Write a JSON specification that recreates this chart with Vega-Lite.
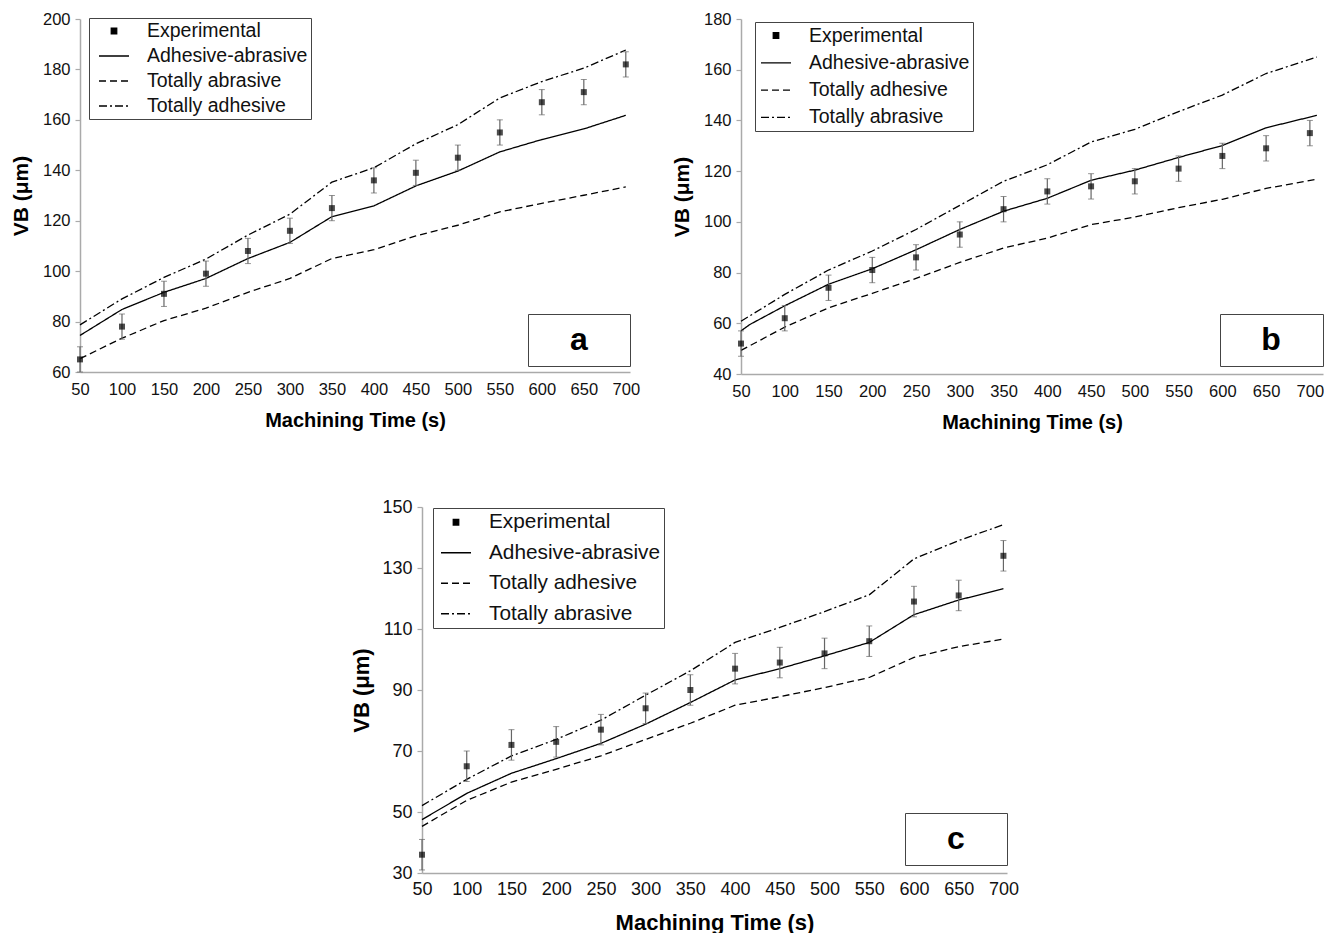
{
"$schema": "https://vega.github.io/schema/vega-lite/v6.json",
"background": "white",
"padding": {"left": 10, "top": 11, "right": 0, "bottom": 0},
"spacing": 65,
"config": {
  "view": {"stroke": null},
  "font": "Liberation Sans",
  "axis": {"grid": false, "domainColor": "#aaaaaa", "domainWidth": 1.5, "tickColor": "#aaaaaa", "tickWidth": 1.2, "labelColor": "#111111", "titleColor": "#000000", "labelFont": "Liberation Sans", "titleFont": "Liberation Sans", "titleFontWeight": "bold", "labelFlush": false, "labelOverlap": false},
  "legend": {"labelFont": "Liberation Sans", "labelColor": "#111111", "strokeColor": "#444444", "fillColor": "white", "labelLimit": 400}
},
"datasets": {
  "model": [
    {"panel": "a", "series": "Adhesive-abrasive", "t": 50, "vb": 74.5},
    {"panel": "a", "series": "Adhesive-abrasive", "t": 100, "vb": 84.8},
    {"panel": "a", "series": "Adhesive-abrasive", "t": 150, "vb": 91.6},
    {"panel": "a", "series": "Adhesive-abrasive", "t": 200, "vb": 97.1},
    {"panel": "a", "series": "Adhesive-abrasive", "t": 250, "vb": 105},
    {"panel": "a", "series": "Adhesive-abrasive", "t": 300, "vb": 111.4},
    {"panel": "a", "series": "Adhesive-abrasive", "t": 350, "vb": 121.6},
    {"panel": "a", "series": "Adhesive-abrasive", "t": 400, "vb": 125.9},
    {"panel": "a", "series": "Adhesive-abrasive", "t": 450, "vb": 133.8},
    {"panel": "a", "series": "Adhesive-abrasive", "t": 500, "vb": 139.7},
    {"panel": "a", "series": "Adhesive-abrasive", "t": 550, "vb": 147.3},
    {"panel": "a", "series": "Adhesive-abrasive", "t": 600, "vb": 152.2},
    {"panel": "a", "series": "Adhesive-abrasive", "t": 650, "vb": 156.4},
    {"panel": "a", "series": "Adhesive-abrasive", "t": 700, "vb": 161.8},
    {"panel": "a", "series": "Totally abrasive", "t": 50, "vb": 65.3},
    {"panel": "a", "series": "Totally abrasive", "t": 100, "vb": 73.4},
    {"panel": "a", "series": "Totally abrasive", "t": 150, "vb": 80.4},
    {"panel": "a", "series": "Totally abrasive", "t": 200, "vb": 85.3},
    {"panel": "a", "series": "Totally abrasive", "t": 250, "vb": 91.6},
    {"panel": "a", "series": "Totally abrasive", "t": 300, "vb": 97.1},
    {"panel": "a", "series": "Totally abrasive", "t": 350, "vb": 105},
    {"panel": "a", "series": "Totally abrasive", "t": 400, "vb": 108.5},
    {"panel": "a", "series": "Totally abrasive", "t": 450, "vb": 114},
    {"panel": "a", "series": "Totally abrasive", "t": 500, "vb": 118.2},
    {"panel": "a", "series": "Totally abrasive", "t": 550, "vb": 123.5},
    {"panel": "a", "series": "Totally abrasive", "t": 600, "vb": 126.9},
    {"panel": "a", "series": "Totally abrasive", "t": 650, "vb": 130.1},
    {"panel": "a", "series": "Totally abrasive", "t": 700, "vb": 133.4},
    {"panel": "a", "series": "Totally adhesive", "t": 50, "vb": 78.7},
    {"panel": "a", "series": "Totally adhesive", "t": 100, "vb": 89},
    {"panel": "a", "series": "Totally adhesive", "t": 150, "vb": 97.5},
    {"panel": "a", "series": "Totally adhesive", "t": 200, "vb": 104.8},
    {"panel": "a", "series": "Totally adhesive", "t": 250, "vb": 114.3},
    {"panel": "a", "series": "Totally adhesive", "t": 300, "vb": 122.6},
    {"panel": "a", "series": "Totally adhesive", "t": 350, "vb": 135.3},
    {"panel": "a", "series": "Totally adhesive", "t": 400, "vb": 141},
    {"panel": "a", "series": "Totally adhesive", "t": 450, "vb": 150.5},
    {"panel": "a", "series": "Totally adhesive", "t": 500, "vb": 158.1},
    {"panel": "a", "series": "Totally adhesive", "t": 550, "vb": 168.7},
    {"panel": "a", "series": "Totally adhesive", "t": 600, "vb": 175.2},
    {"panel": "a", "series": "Totally adhesive", "t": 650, "vb": 180.5},
    {"panel": "a", "series": "Totally adhesive", "t": 700, "vb": 187.7},
    {"panel": "b", "series": "Adhesive-abrasive", "t": 50, "vb": 57},
    {"panel": "b", "series": "Adhesive-abrasive", "t": 60, "vb": 59.5},
    {"panel": "b", "series": "Adhesive-abrasive", "t": 100, "vb": 66.9},
    {"panel": "b", "series": "Adhesive-abrasive", "t": 150, "vb": 75.4},
    {"panel": "b", "series": "Adhesive-abrasive", "t": 200, "vb": 81.5},
    {"panel": "b", "series": "Adhesive-abrasive", "t": 250, "vb": 89},
    {"panel": "b", "series": "Adhesive-abrasive", "t": 300, "vb": 97},
    {"panel": "b", "series": "Adhesive-abrasive", "t": 350, "vb": 104.2},
    {"panel": "b", "series": "Adhesive-abrasive", "t": 400, "vb": 109.3},
    {"panel": "b", "series": "Adhesive-abrasive", "t": 450, "vb": 116.4},
    {"panel": "b", "series": "Adhesive-abrasive", "t": 500, "vb": 120.4},
    {"panel": "b", "series": "Adhesive-abrasive", "t": 550, "vb": 125.4},
    {"panel": "b", "series": "Adhesive-abrasive", "t": 600, "vb": 130.1},
    {"panel": "b", "series": "Adhesive-abrasive", "t": 650, "vb": 137.1},
    {"panel": "b", "series": "Adhesive-abrasive", "t": 708, "vb": 142},
    {"panel": "b", "series": "Totally adhesive", "t": 50, "vb": 49.3},
    {"panel": "b", "series": "Totally adhesive", "t": 100, "vb": 58.5},
    {"panel": "b", "series": "Totally adhesive", "t": 150, "vb": 66.1},
    {"panel": "b", "series": "Totally adhesive", "t": 200, "vb": 71.8},
    {"panel": "b", "series": "Totally adhesive", "t": 250, "vb": 77.7},
    {"panel": "b", "series": "Totally adhesive", "t": 300, "vb": 84},
    {"panel": "b", "series": "Totally adhesive", "t": 350, "vb": 89.7},
    {"panel": "b", "series": "Totally adhesive", "t": 400, "vb": 93.6},
    {"panel": "b", "series": "Totally adhesive", "t": 450, "vb": 98.9},
    {"panel": "b", "series": "Totally adhesive", "t": 500, "vb": 101.9},
    {"panel": "b", "series": "Totally adhesive", "t": 550, "vb": 105.6},
    {"panel": "b", "series": "Totally adhesive", "t": 600, "vb": 108.9},
    {"panel": "b", "series": "Totally adhesive", "t": 650, "vb": 113.2},
    {"panel": "b", "series": "Totally adhesive", "t": 708, "vb": 116.8},
    {"panel": "b", "series": "Totally abrasive", "t": 50, "vb": 60.8},
    {"panel": "b", "series": "Totally abrasive", "t": 100, "vb": 71.4},
    {"panel": "b", "series": "Totally abrasive", "t": 150, "vb": 81},
    {"panel": "b", "series": "Totally abrasive", "t": 200, "vb": 88.5},
    {"panel": "b", "series": "Totally abrasive", "t": 250, "vb": 97},
    {"panel": "b", "series": "Totally abrasive", "t": 300, "vb": 106.5},
    {"panel": "b", "series": "Totally abrasive", "t": 350, "vb": 116},
    {"panel": "b", "series": "Totally abrasive", "t": 400, "vb": 122.5},
    {"panel": "b", "series": "Totally abrasive", "t": 450, "vb": 131.5},
    {"panel": "b", "series": "Totally abrasive", "t": 500, "vb": 136.5},
    {"panel": "b", "series": "Totally abrasive", "t": 550, "vb": 143.5},
    {"panel": "b", "series": "Totally abrasive", "t": 600, "vb": 150},
    {"panel": "b", "series": "Totally abrasive", "t": 650, "vb": 158.5},
    {"panel": "b", "series": "Totally abrasive", "t": 708, "vb": 165},
    {"panel": "c", "series": "Adhesive-abrasive", "t": 50, "vb": 47.5},
    {"panel": "c", "series": "Adhesive-abrasive", "t": 100, "vb": 56.1},
    {"panel": "c", "series": "Adhesive-abrasive", "t": 150, "vb": 62.7},
    {"panel": "c", "series": "Adhesive-abrasive", "t": 200, "vb": 67.5},
    {"panel": "c", "series": "Adhesive-abrasive", "t": 250, "vb": 72.5},
    {"panel": "c", "series": "Adhesive-abrasive", "t": 300, "vb": 78.8},
    {"panel": "c", "series": "Adhesive-abrasive", "t": 350, "vb": 85.9},
    {"panel": "c", "series": "Adhesive-abrasive", "t": 400, "vb": 93.3},
    {"panel": "c", "series": "Adhesive-abrasive", "t": 450, "vb": 97},
    {"panel": "c", "series": "Adhesive-abrasive", "t": 500, "vb": 101.2},
    {"panel": "c", "series": "Adhesive-abrasive", "t": 550, "vb": 105.6},
    {"panel": "c", "series": "Adhesive-abrasive", "t": 600, "vb": 114.7},
    {"panel": "c", "series": "Adhesive-abrasive", "t": 650, "vb": 119.5},
    {"panel": "c", "series": "Adhesive-abrasive", "t": 700, "vb": 123.2},
    {"panel": "c", "series": "Totally adhesive", "t": 50, "vb": 45.3},
    {"panel": "c", "series": "Totally adhesive", "t": 100, "vb": 53.8},
    {"panel": "c", "series": "Totally adhesive", "t": 150, "vb": 59.8},
    {"panel": "c", "series": "Totally adhesive", "t": 200, "vb": 64},
    {"panel": "c", "series": "Totally adhesive", "t": 250, "vb": 68.4},
    {"panel": "c", "series": "Totally adhesive", "t": 300, "vb": 73.8},
    {"panel": "c", "series": "Totally adhesive", "t": 350, "vb": 79.1},
    {"panel": "c", "series": "Totally adhesive", "t": 400, "vb": 85},
    {"panel": "c", "series": "Totally adhesive", "t": 450, "vb": 87.8},
    {"panel": "c", "series": "Totally adhesive", "t": 500, "vb": 90.8},
    {"panel": "c", "series": "Totally adhesive", "t": 550, "vb": 94.1},
    {"panel": "c", "series": "Totally adhesive", "t": 600, "vb": 100.7},
    {"panel": "c", "series": "Totally adhesive", "t": 650, "vb": 104.2},
    {"panel": "c", "series": "Totally adhesive", "t": 700, "vb": 106.7},
    {"panel": "c", "series": "Totally abrasive", "t": 50, "vb": 52.1},
    {"panel": "c", "series": "Totally abrasive", "t": 100, "vb": 60.7},
    {"panel": "c", "series": "Totally abrasive", "t": 150, "vb": 68.4},
    {"panel": "c", "series": "Totally abrasive", "t": 200, "vb": 73.8},
    {"panel": "c", "series": "Totally abrasive", "t": 250, "vb": 80.1},
    {"panel": "c", "series": "Totally abrasive", "t": 300, "vb": 88.3},
    {"panel": "c", "series": "Totally abrasive", "t": 350, "vb": 96.3},
    {"panel": "c", "series": "Totally abrasive", "t": 400, "vb": 105.6},
    {"panel": "c", "series": "Totally abrasive", "t": 450, "vb": 110.5},
    {"panel": "c", "series": "Totally abrasive", "t": 500, "vb": 115.7},
    {"panel": "c", "series": "Totally abrasive", "t": 550, "vb": 121.2},
    {"panel": "c", "series": "Totally abrasive", "t": 600, "vb": 133},
    {"panel": "c", "series": "Totally abrasive", "t": 650, "vb": 139},
    {"panel": "c", "series": "Totally abrasive", "t": 700, "vb": 144.2}
  ],
  "exp": [
    {"panel": "a", "t": 50, "vb": 65, "lo": 60, "hi": 70},
    {"panel": "a", "t": 100, "vb": 78, "lo": 73, "hi": 83},
    {"panel": "a", "t": 150, "vb": 91, "lo": 86, "hi": 96},
    {"panel": "a", "t": 200, "vb": 99, "lo": 94, "hi": 104},
    {"panel": "a", "t": 250, "vb": 108, "lo": 103, "hi": 113},
    {"panel": "a", "t": 300, "vb": 116, "lo": 111, "hi": 121},
    {"panel": "a", "t": 350, "vb": 125, "lo": 120, "hi": 130},
    {"panel": "a", "t": 400, "vb": 136, "lo": 131, "hi": 141},
    {"panel": "a", "t": 450, "vb": 139, "lo": 134, "hi": 144},
    {"panel": "a", "t": 500, "vb": 145, "lo": 140, "hi": 150},
    {"panel": "a", "t": 550, "vb": 155, "lo": 150, "hi": 160},
    {"panel": "a", "t": 600, "vb": 167, "lo": 162, "hi": 172},
    {"panel": "a", "t": 650, "vb": 171, "lo": 166, "hi": 176},
    {"panel": "a", "t": 700, "vb": 182, "lo": 177, "hi": 187},
    {"panel": "b", "t": 50, "vb": 52, "lo": 47, "hi": 57},
    {"panel": "b", "t": 100, "vb": 62, "lo": 57, "hi": 67},
    {"panel": "b", "t": 150, "vb": 74, "lo": 69, "hi": 79},
    {"panel": "b", "t": 200, "vb": 81, "lo": 76, "hi": 86},
    {"panel": "b", "t": 250, "vb": 86, "lo": 81, "hi": 91},
    {"panel": "b", "t": 300, "vb": 95, "lo": 90, "hi": 100},
    {"panel": "b", "t": 350, "vb": 105, "lo": 100, "hi": 110},
    {"panel": "b", "t": 400, "vb": 112, "lo": 107, "hi": 117},
    {"panel": "b", "t": 450, "vb": 114, "lo": 109, "hi": 119},
    {"panel": "b", "t": 500, "vb": 116, "lo": 111, "hi": 121},
    {"panel": "b", "t": 550, "vb": 121, "lo": 116, "hi": 126},
    {"panel": "b", "t": 600, "vb": 126, "lo": 121, "hi": 131},
    {"panel": "b", "t": 650, "vb": 129, "lo": 124, "hi": 134},
    {"panel": "b", "t": 700, "vb": 135, "lo": 130, "hi": 140},
    {"panel": "c", "t": 50, "vb": 36, "lo": 31, "hi": 41},
    {"panel": "c", "t": 100, "vb": 65, "lo": 60, "hi": 70},
    {"panel": "c", "t": 150, "vb": 72, "lo": 67, "hi": 77},
    {"panel": "c", "t": 200, "vb": 73, "lo": 68, "hi": 78},
    {"panel": "c", "t": 250, "vb": 77, "lo": 72, "hi": 82},
    {"panel": "c", "t": 300, "vb": 84, "lo": 79, "hi": 89},
    {"panel": "c", "t": 350, "vb": 90, "lo": 85, "hi": 95},
    {"panel": "c", "t": 400, "vb": 97, "lo": 92, "hi": 102},
    {"panel": "c", "t": 450, "vb": 99, "lo": 94, "hi": 104},
    {"panel": "c", "t": 500, "vb": 102, "lo": 97, "hi": 107},
    {"panel": "c", "t": 550, "vb": 106, "lo": 101, "hi": 111},
    {"panel": "c", "t": 600, "vb": 119, "lo": 114, "hi": 124},
    {"panel": "c", "t": 650, "vb": 121, "lo": 116, "hi": 126},
    {"panel": "c", "t": 700, "vb": 134, "lo": 129, "hi": 139}
  ]
},
"resolve": {"scale": {"strokeDash": "independent", "shape": "independent"}, "legend": {"strokeDash": "independent", "shape": "independent"}},
"vconcat": [
  {
    "bounds": "flush",
    "spacing": 111,
    "resolve": {"scale": {"strokeDash": "independent", "shape": "independent"}, "legend": {"strokeDash": "independent", "shape": "independent"}},
    "hconcat": [
      {
        "width": 550, "height": 353,
        "layer": [
          {
            "data": {"name": "model"},
            "transform": [{"filter": "datum.panel === 'a'"}],
            "mark": {"type": "line", "color": "black", "strokeWidth": 1.3},
            "encoding": {
              "x": {"field": "t", "type": "quantitative", "scale": {"domain": [50, 705], "nice": false, "zero": false},
                    "axis": {"values": [50,100,150,200,250,300,350,400,450,500,550,600,650,700], "title": "Machining Time (s)", "ticks": false, "tickSize": 0, "labelPadding": 9, "labelFontSize": 16.5, "titleFontSize": 20, "titlePadding": 13}},
              "y": {"field": "vb", "type": "quantitative", "title": "VB (μm)", "scale": {"domain": [60, 200], "nice": false, "zero": false},
                    "axis": {"values": [60,80,100,120,140,160,180,200], "tickSize": 5, "labelPadding": 5, "labelFontSize": 16.5, "titleFontSize": 21, "titlePadding": 11}},
              "strokeDash": {"field": "series", "type": "nominal",
                "scale": {"domain": ["Experimental", "Adhesive-abrasive", "Totally abrasive", "Totally adhesive"], "range": [[1, 0], [1, 0], [7, 4], [8, 3, 2, 3]]},
                "legend": {"title": null, "orient": "none", "legendX": 9, "legendY": -1, "symbolType": "stroke", "symbolSize": 900, "symbolOffset": 6, "symbolStrokeWidth": 1.3, "symbolStrokeColor": "black", "labelOffset": 17, "labelFontSize": 19.5, "padding": 3, "rowPadding": 5, "clipHeight": 20,
                  "encode": {"symbols": {"update": {"shape": {"signal": "datum.value === 'Experimental' ? 'square' : 'stroke'"}, "size": {"signal": "datum.value === 'Experimental' ? 30 : 900"}, "fill": {"signal": "datum.value === 'Experimental' ? 'black' : 'transparent'"}, "stroke": {"value": "black"}, "strokeWidth": {"value": 1.3}, "opacity": {"value": 1}}}}}}
            }
          },
          {
            "data": {"name": "exp"},
            "transform": [{"filter": "datum.panel === 'a'"}],
            "mark": {"type": "errorbar", "ticks": {"size": 6, "color": "#666666", "strokeWidth": 1.2}, "rule": {"color": "#666666", "strokeWidth": 1.2}},
            "encoding": {
              "x": {"field": "t", "type": "quantitative"},
              "y": {"field": "lo", "type": "quantitative", "title": "VB (μm)"},
              "y2": {"field": "hi"}
            }
          },
          {
            "data": {"name": "exp"},
            "transform": [{"filter": "datum.panel === 'a'"}],
            "mark": {"type": "point", "shape": "square", "filled": true, "color": "black", "size": 36},
            "encoding": {
              "x": {"field": "t", "type": "quantitative"},
              "y": {"field": "vb", "type": "quantitative", "title": "VB (μm)"}
            }
          },
          {
            "data": {"name": "exp"},
            "transform": [{"filter": "datum.panel === 'a'"}],
            "mark": {"type": "point", "opacity": 0},
            "encoding": {
              "x": {"field": "t", "type": "quantitative"},
              "y": {"field": "vb", "type": "quantitative", "title": "VB (μm)"},
              "shape": {"field": "panel", "type": "nominal", "scale": {"domain": ["a"], "range": ["stroke"]},
                "legend": {"title": null, "orient": "none", "legendX": 448, "legendY": 295, "symbolSize": 324, "symbolStrokeWidth": 0, "symbolOpacity": 0, "symbolStrokeColor": "transparent", "symbolFillColor": "transparent", "symbolOffset": 57, "labelAlign": "center", "labelOffset": -48, "labelFontSize": 32, "labelFontWeight": "bold", "labelColor": "black", "padding": 10}}
            }
          }
        ]
      },
      {
        "width": 582, "height": 355,
        "layer": [
          {
            "data": {"name": "model"},
            "transform": [{"filter": "datum.panel === 'b'"}],
            "mark": {"type": "line", "color": "black", "strokeWidth": 1.3},
            "encoding": {
              "x": {"field": "t", "type": "quantitative", "scale": {"domain": [50, 715], "nice": false, "zero": false},
                    "axis": {"values": [50,100,150,200,250,300,350,400,450,500,550,600,650,700], "title": "Machining Time (s)", "ticks": false, "tickSize": 0, "labelPadding": 9, "labelFontSize": 16.5, "titleFontSize": 20, "titlePadding": 13}},
              "y": {"field": "vb", "type": "quantitative", "title": "VB (μm)", "scale": {"domain": [40, 180], "nice": false, "zero": false},
                    "axis": {"values": [40,60,80,100,120,140,160,180], "tickSize": 5, "labelPadding": 5, "labelFontSize": 16.5, "titleFontSize": 21, "titlePadding": 11}},
              "strokeDash": {"field": "series", "type": "nominal",
                "scale": {"domain": ["Experimental", "Adhesive-abrasive", "Totally adhesive", "Totally abrasive"], "range": [[1, 0], [1, 0], [7, 4], [8, 3, 2, 3]]},
                "legend": {"title": null, "orient": "none", "legendX": 14, "legendY": 3, "symbolType": "stroke", "symbolSize": 900, "symbolOffset": 2, "symbolStrokeWidth": 1.3, "symbolStrokeColor": "black", "labelOffset": 17, "labelFontSize": 19.5, "padding": 3, "rowPadding": 6.3, "clipHeight": 21,
                  "encode": {"symbols": {"update": {"shape": {"signal": "datum.value === 'Experimental' ? 'square' : 'stroke'"}, "size": {"signal": "datum.value === 'Experimental' ? 30 : 900"}, "fill": {"signal": "datum.value === 'Experimental' ? 'black' : 'transparent'"}, "stroke": {"value": "black"}, "strokeWidth": {"value": 1.3}, "opacity": {"value": 1}}}}}}
            }
          },
          {
            "data": {"name": "exp"},
            "transform": [{"filter": "datum.panel === 'b'"}],
            "mark": {"type": "errorbar", "ticks": {"size": 6, "color": "#666666", "strokeWidth": 1.2}, "rule": {"color": "#666666", "strokeWidth": 1.2}},
            "encoding": {
              "x": {"field": "t", "type": "quantitative"},
              "y": {"field": "lo", "type": "quantitative", "title": "VB (μm)"},
              "y2": {"field": "hi"}
            }
          },
          {
            "data": {"name": "exp"},
            "transform": [{"filter": "datum.panel === 'b'"}],
            "mark": {"type": "point", "shape": "square", "filled": true, "color": "black", "size": 36},
            "encoding": {
              "x": {"field": "t", "type": "quantitative"},
              "y": {"field": "vb", "type": "quantitative", "title": "VB (μm)"}
            }
          },
          {
            "data": {"name": "exp"},
            "transform": [{"filter": "datum.panel === 'b'"}],
            "mark": {"type": "point", "opacity": 0},
            "encoding": {
              "x": {"field": "t", "type": "quantitative"},
              "y": {"field": "vb", "type": "quantitative", "title": "VB (μm)"},
              "shape": {"field": "panel", "type": "nominal", "scale": {"domain": ["b"], "range": ["stroke"]},
                "legend": {"title": null, "orient": "none", "legendX": 479, "legendY": 295, "symbolSize": 324, "symbolStrokeWidth": 0, "symbolOpacity": 0, "symbolStrokeColor": "transparent", "symbolFillColor": "transparent", "symbolOffset": 58, "labelAlign": "center", "labelOffset": -49, "labelFontSize": 32, "labelFontWeight": "bold", "labelColor": "black", "padding": 10}}
            }
          }
        ]
      }
    ]
  },
  {
    "bounds": "flush",
    "spacing": 0,
    "resolve": {"scale": {"strokeDash": "independent", "shape": "independent"}, "legend": {"strokeDash": "independent", "shape": "independent"}},
    "hconcat": [
      {
        "width": 342, "height": 10,
        "data": {"values": []},
        "mark": {"type": "point", "opacity": 0}
      },
      {
        "width": 585, "height": 366,
        "layer": [
          {
            "data": {"name": "model"},
            "transform": [{"filter": "datum.panel === 'c'"}],
            "mark": {"type": "line", "color": "black", "strokeWidth": 1.3},
            "encoding": {
              "x": {"field": "t", "type": "quantitative", "scale": {"domain": [50, 704], "nice": false, "zero": false},
                    "axis": {"values": [50,100,150,200,250,300,350,400,450,500,550,600,650,700], "title": "Machining Time (s)", "ticks": false, "tickSize": 0, "labelPadding": 7, "labelFontSize": 18, "titleFontSize": 22, "titlePadding": 14}},
              "y": {"field": "vb", "type": "quantitative", "title": "VB (μm)", "scale": {"domain": [30, 150], "nice": false, "zero": false},
                    "axis": {"values": [30,50,70,90,110,130,150], "tickSize": 5, "labelPadding": 5, "labelFontSize": 18, "titleFontSize": 22, "titlePadding": 8}},
              "strokeDash": {"field": "series", "type": "nominal",
                "scale": {"domain": ["Experimental", "Adhesive-abrasive", "Totally adhesive", "Totally abrasive"], "range": [[1, 0], [1, 0], [7, 4], [8, 3, 2, 3]]},
                "legend": {"title": null, "orient": "none", "legendX": 11, "legendY": 1, "symbolType": "stroke", "symbolSize": 900, "symbolOffset": 4, "symbolStrokeWidth": 1.3, "symbolStrokeColor": "black", "labelOffset": 17, "labelFontSize": 20.8, "padding": 3, "rowPadding": 7.5, "clipHeight": 22.5,
                  "encode": {"symbols": {"update": {"shape": {"signal": "datum.value === 'Experimental' ? 'square' : 'stroke'"}, "size": {"signal": "datum.value === 'Experimental' ? 30 : 900"}, "fill": {"signal": "datum.value === 'Experimental' ? 'black' : 'transparent'"}, "stroke": {"value": "black"}, "strokeWidth": {"value": 1.3}, "opacity": {"value": 1}}}}}}
            }
          },
          {
            "data": {"name": "exp"},
            "transform": [{"filter": "datum.panel === 'c'"}],
            "mark": {"type": "errorbar", "ticks": {"size": 6, "color": "#666666", "strokeWidth": 1.2}, "rule": {"color": "#666666", "strokeWidth": 1.2}},
            "encoding": {
              "x": {"field": "t", "type": "quantitative"},
              "y": {"field": "lo", "type": "quantitative", "title": "VB (μm)"},
              "y2": {"field": "hi"}
            }
          },
          {
            "data": {"name": "exp"},
            "transform": [{"filter": "datum.panel === 'c'"}],
            "mark": {"type": "point", "shape": "square", "filled": true, "color": "black", "size": 36},
            "encoding": {
              "x": {"field": "t", "type": "quantitative"},
              "y": {"field": "vb", "type": "quantitative", "title": "VB (μm)"}
            }
          },
          {
            "data": {"name": "exp"},
            "transform": [{"filter": "datum.panel === 'c'"}],
            "mark": {"type": "point", "opacity": 0},
            "encoding": {
              "x": {"field": "t", "type": "quantitative"},
              "y": {"field": "vb", "type": "quantitative", "title": "VB (μm)"},
              "shape": {"field": "panel", "type": "nominal", "scale": {"domain": ["c"], "range": ["stroke"]},
                "legend": {"title": null, "orient": "none", "legendX": 483, "legendY": 306, "symbolSize": 324, "symbolStrokeWidth": 0, "symbolOpacity": 0, "symbolStrokeColor": "transparent", "symbolFillColor": "transparent", "symbolOffset": 57, "labelAlign": "center", "labelOffset": -48, "labelFontSize": 32, "labelFontWeight": "bold", "labelColor": "black", "padding": 10}}
            }
          }
        ]
      }
    ]
  }
]
}
